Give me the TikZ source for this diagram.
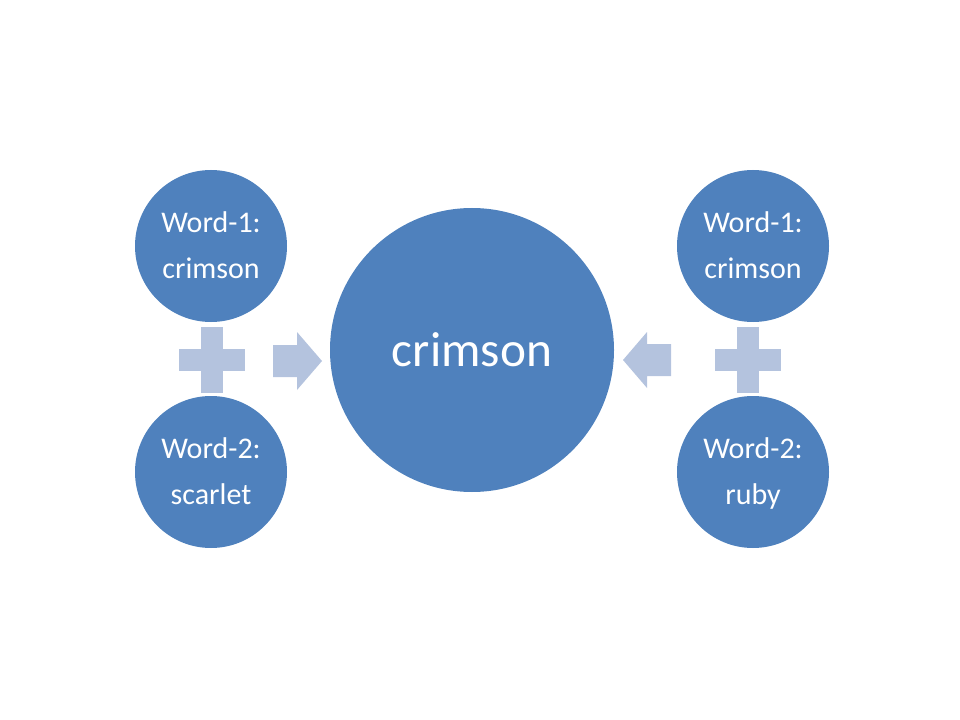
\documentclass[tikz,border=0pt]{standalone}
\usepackage{fontspec}
\setmainfont{Carlito}
\definecolor{wordblue}{RGB}{79,129,189}
\definecolor{signblue}{RGB}{180,195,222}
\tikzset{
  word/.style={circle, fill=wordblue, text=white, align=center, inner sep=0pt,
    minimum size=114pt, font=\fontsize{22.5}{34.5}\selectfont},
  result/.style={circle, fill=wordblue, text=white, inner sep=0pt,
    minimum size=213pt, font=\fontsize{37}{44}\selectfont},
  sign/.style={fill=signblue, draw=none}
}

\begin{document}
\begin{tikzpicture}[x=0.75pt, y=-0.75pt]
    \useasboundingbox (0,0) rectangle (960,720);
    % circles
    \node[result] (Mix) at (472,350) {crimson};
    \node[word] (LeftOne) at (211,246) {Word-1:\strut\\crimson\strut};
    \node[word] (LeftTwo) at (211,472) {Word-2:\strut\\scarlet\strut};
    \node[word] (RightOne) at (753,246) {Word-1:\strut\\crimson\strut};
    \node[word] (RightTwo) at (753,472) {Word-2:\strut\\ruby\strut};
    % plus signs
    \pgfmathsetmacro{\arm}{33}
    \pgfmathsetmacro{\bar}{11}
    \foreach \px in {212,748} {
      \fill[sign] (\px-\arm,360-\bar) rectangle (\px+\arm,360+\bar);
      \fill[sign] (\px-\bar,360-\arm) rectangle (\px+\bar,360+\arm);
    }
    % arrows
    \fill[sign] (273,345) -- (297,345) -- (297,332) -- (322,361)
      -- (297,390) -- (297,377) -- (273,377) -- cycle;
    \fill[sign] (671,344) -- (647,344) -- (647,332) -- (623,360)
      -- (647,388) -- (647,376) -- (671,376) -- cycle;
\end{tikzpicture}
\end{document}
